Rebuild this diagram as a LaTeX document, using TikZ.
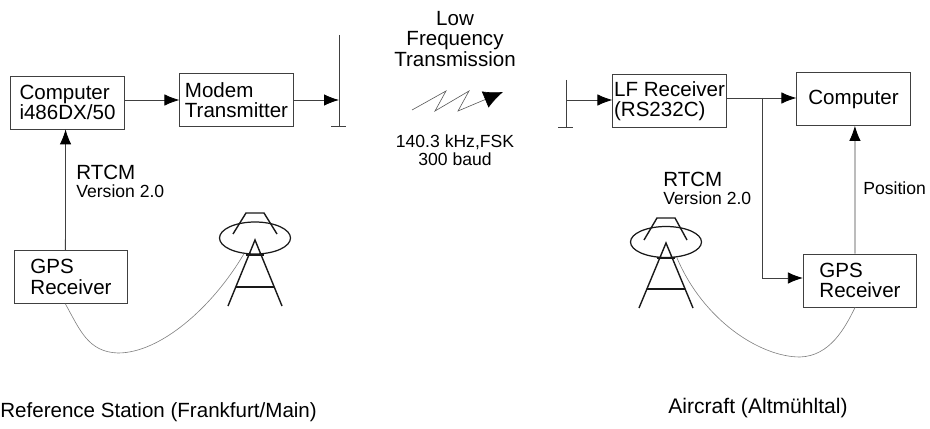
\documentclass[tikz,border=0pt]{standalone}
\usepackage{fontspec}
\setmainfont{Liberation Sans}
\usetikzlibrary{arrows.meta, shapes.geometric}
\colorlet{linegray}{black!75}
\tikzset{
    unitbox/.style={draw=linegray, line width=0.45pt, minimum width=2.27cm, minimum height=1.06cm, inner sep=0pt, align=left, font=\fontsize{11.7}{11.6}\selectfont},
    biglabel/.style={inner sep=0pt, align=center, font=\fontsize{11.7}{11.9}\selectfont},
    smalllabel/.style={inner sep=0pt, align=center, font=\fontsize{10}{10.2}\selectfont},
    signal/.style={draw=linegray, line width=0.45pt, -{Latex[length=8.5pt,width=6.5pt,color=black]}},
    cable/.style={draw=black!50, line width=0.35pt},
    mast/.style={draw=linegray, line width=0.5pt},
    tower/.style={draw=black!90, line width=0.8pt}
}
\begin{document}
\begin{tikzpicture}[x=0.02cm,y=-0.02cm]
    \useasboundingbox (0,0) rectangle (930,429);
    % reference station
    \node[unitbox] (comref) at (67.5,102.5) {Computer\\i486DX/50};
    \node[unitbox] (modem) at (236.5,100) {Modem\\Transmitter};
    \node[unitbox] (gpsref) at (71,277) {GPS\\Receiver};
    \draw[mast] (339,35) -- (339,126);
    \draw[mast] (331,126) -- (346,126);
    \coordinate (mastref) at (339,100);
    \draw[signal] (comref.east |- modem.west) -- (modem.west);
    \draw[signal] (modem.east) -- (mastref);
    \draw[signal] ([xshift=-3.2pt]gpsref.north) -- ([xshift=-1.1pt]comref.south);
    \node[biglabel, anchor=west] (rtcmref) at (76,172) {RTCM};
    \node[smalllabel, anchor=west] (verref) at (76,191) {Version 2.0};
    % dish and tower, left
    \node[draw=black!90, line width=0.7pt, ellipse, inner sep=0pt, minimum width=1.42cm, minimum height=0.64cm] (dishref) at (255,238) {};
    \draw[tower] (233,234) -- (246,213) -- (264,213) -- (277,234);
    \draw[tower] (228,306) -- (255,240) -- (282,306);
    \draw[tower] (246,255) -- (264,255);
    \draw[tower] (236,287) -- (274,287);
    \draw[cable] ([xshift=-3.2pt]gpsref.south) .. controls (80,330) and (88,352) .. (118,353) .. controls (160,353) and (212,308) .. (dishref.-125);
    % transmission
    \node[biglabel] (lowfreq) at (455,39) {Low\\Frequency\\Transmission};
    \coordinate (zig0) at (412,110);
    \coordinate (zig1) at (446,91);
    \coordinate (zig2) at (435,111);
    \coordinate (zig3) at (469,91);
    \coordinate (zig4) at (458,111);
    \coordinate (zig5) at (503,92);
    \draw[draw=black!65, line width=0.35pt, -{Latex[length=11pt,width=10pt,color=black]}] (zig0) -- (zig1) -- (zig2) -- (zig3) -- (zig4) -- (zig5);
    \node[smalllabel] (fsk) at (455,150) {140.3 kHz,FSK\\300 baud};
    % aircraft
    \node[unitbox] (lfrec) at (669.5,101) {LF Receiver\\(RS232C)};
    \node[unitbox] (comair) at (853.5,99) {Computer};
    \node[unitbox] (gpsair) at (860,280.5) {GPS\\Receiver};
    \draw[mast] (566,80) -- (566,127);
    \draw[mast] (558,127) -- (573,127);
    \coordinate (mastair) at (566,100);
    \coordinate (branch) at (762,98);
    \draw[signal] (mastair) -- (mastair -| lfrec.west);
    \draw[signal] (lfrec.east |- branch) -- (branch -| comair.west);
    \draw[signal] (branch) -- (762,278) -- (gpsair.west |- 762,278);
    \draw[signal] ([xshift=-2.8pt]gpsair.north) -- ([xshift=0.8pt]comair.south);
    \node[biglabel, anchor=west] (rtcmair) at (663,179) {RTCM};
    \node[smalllabel, anchor=west] (verair) at (663,198) {Version 2.0};
    \node[smalllabel, anchor=west] (posair) at (863,188) {Position};
    % dish and tower, right
    \node[draw=black!90, line width=0.7pt, ellipse, inner sep=0pt, minimum width=1.42cm, minimum height=0.62cm] (dishair) at (666,242) {};
    \draw[tower] (644,240) -- (657,218) -- (675,218) -- (687,240);
    \draw[tower] (639,308) -- (666,243) -- (693,308);
    \draw[tower] (657,258) -- (675,258);
    \draw[tower] (647,289) -- (685,289);
    \draw[cable] ([xshift=-2.8pt]gpsair.south) .. controls (845,328) and (830,356) .. (800,357) .. controls (760,357) and (703,320) .. (dishair.-55);
    % captions
    \node[biglabel, anchor=west] (capref) at (0,412) {Reference Station (Frankfurt/Main)};
    \node[biglabel, font=\fontsize{12}{12}\selectfont] (capair) at (758,408) {Aircraft (Altmühltal)};
\end{tikzpicture}
\end{document}
